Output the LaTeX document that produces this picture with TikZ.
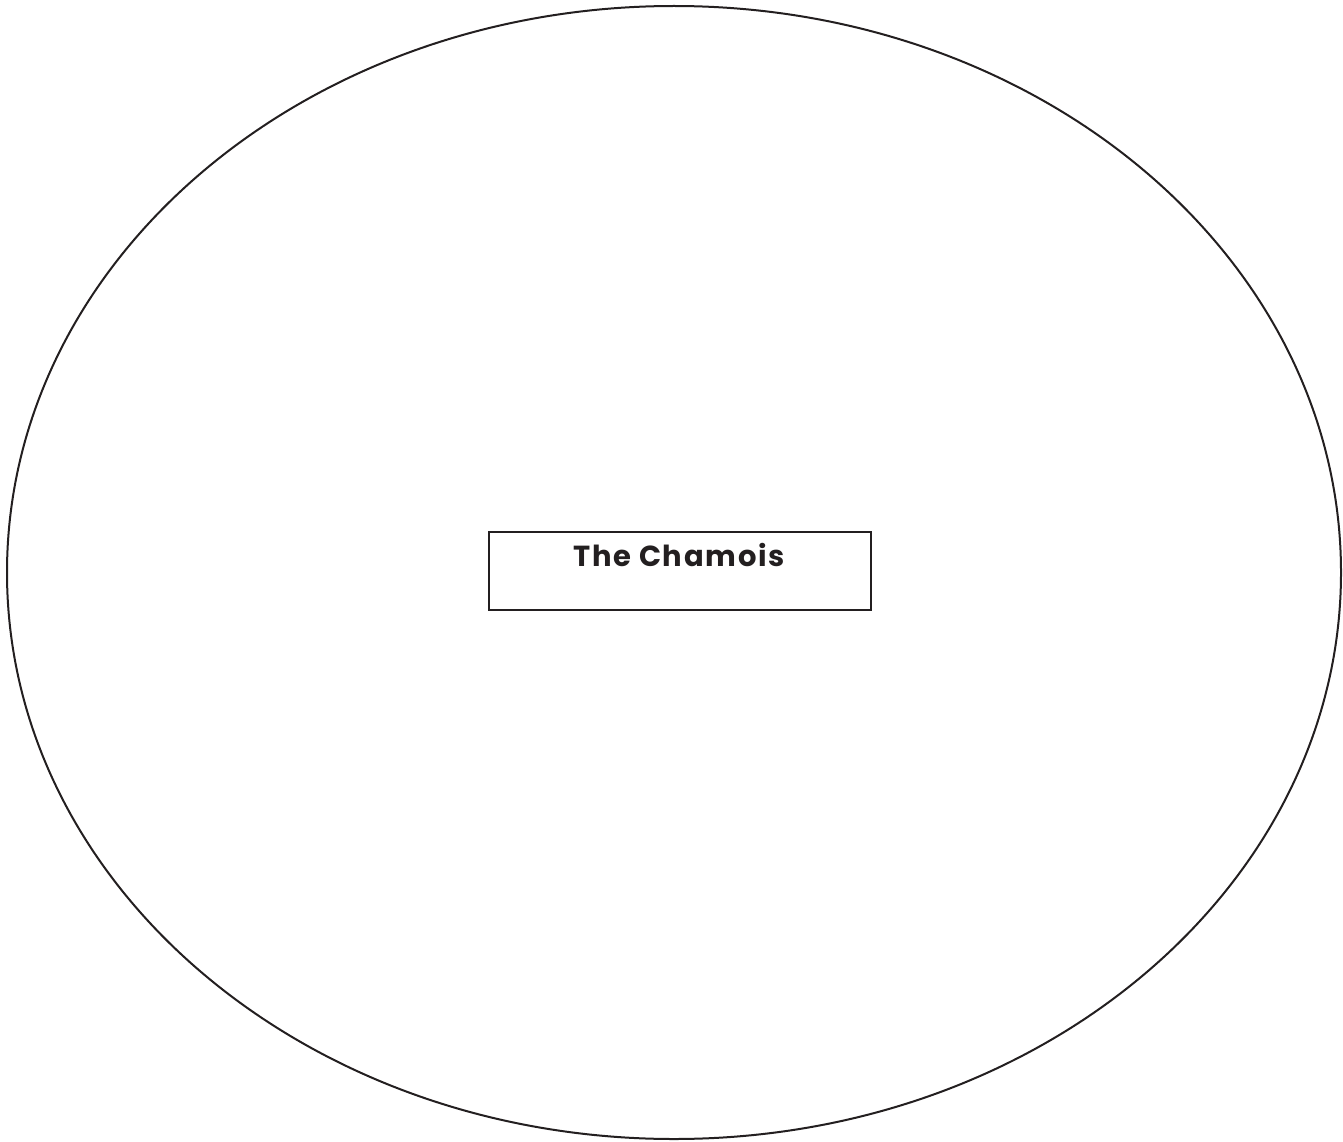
\documentclass[tikz,border=0pt]{standalone}
\usepackage{fontspec}
\setmainfont{Poppins}
\newfontfamily\titlefont[LetterSpace=6]{Poppins}
\usetikzlibrary{shapes.geometric}
\definecolor{ink}{HTML}{231F20}
\tikzset{
  outer/.style={draw=ink, line width=2pt, ellipse, minimum width=1334pt, minimum height=1133pt, inner sep=0pt},
  titlebox/.style={draw=ink, line width=2pt, minimum width=382pt, minimum height=78pt, inner sep=0pt},
  titletext/.style={text=ink, font=\titlefont\fontsize{29}{33}\selectfont\bfseries, inner sep=0pt, anchor=base}
}
\begin{document}
\begin{tikzpicture}[x=1pt,y=-1pt]
\useasboundingbox (0,0) rectangle (1343,1142);
\node[outer] (ell) at (674,572.5) {};
\node[titlebox] (box) at (680,571) {};
\node[titletext] (lbl) at (679,566) {The Chamois};
\end{tikzpicture}
\end{document}
